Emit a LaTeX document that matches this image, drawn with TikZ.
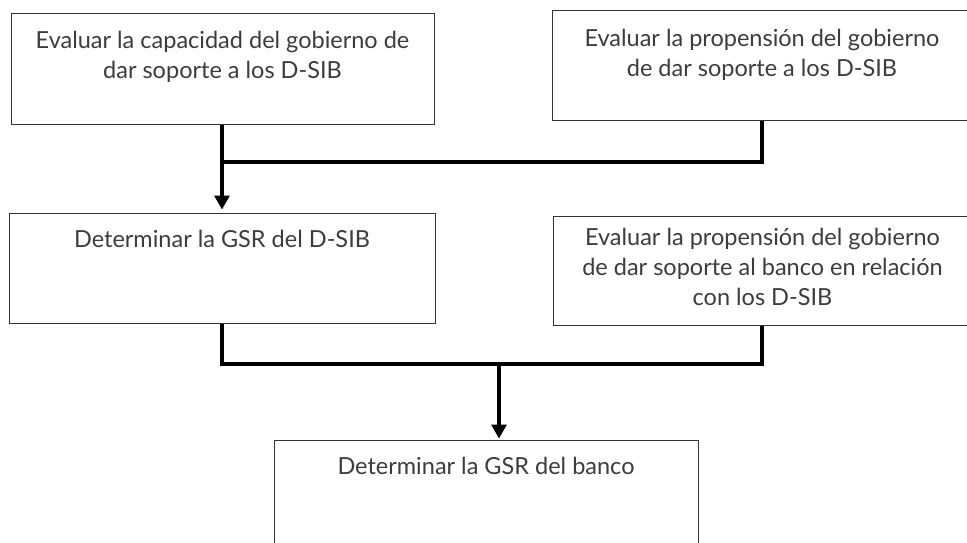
\documentclass[tikz,border=0pt]{standalone}
\usepackage{fontspec}
\setmainfont{Lato}
\usetikzlibrary{arrows.meta,positioning}
\definecolor{txtgray}{HTML}{3C3C3C}
\definecolor{boxgray}{HTML}{333333}
\begin{document}
\begin{tikzpicture}[x=1pt,y=-1pt,>={Triangle[width=15pt,length=14pt]},
        box/.style={draw=boxgray,line width=1pt,minimum width=#1,inner sep=0pt},
        txt/.style={text=txtgray,align=center,inner sep=0pt,font=\fontsize{23.5}{30}\selectfont},
        conn/.style={line width=3.2pt,black}]
        \useasboundingbox (0,0) rectangle (967,543);
        \clip (0,0) rectangle (967,543);
        \node[box=423pt,minimum height=110pt] (cap) at (222.5,69) {};
        \node[box=428pt,minimum height=109pt] (prop) at (766,65.5) {};
        \node[box=426pt,minimum height=110pt] (gsrd) at (222,268) {};
        \node[box=427pt,minimum height=109pt] (propb) at (766.5,270.5) {};
        \node[box=424pt,minimum height=120pt] (gsrb) at (486,500) {};
        \node[txt,below=17pt of cap.north] (tcap) {Evaluar la capacidad del gobierno de\\dar soporte a los D-SIB};
        \node[txt,below=18pt of prop.north,xshift=-4pt] (tprop) {Evaluar la propensión del gobierno\\de dar soporte a los D-SIB};
        \node[txt,below=17pt of gsrd.north] (tgsrd) {Determinar la GSR del D-SIB};
        \node[txt,below=12pt of propb.north,xshift=-4pt] (tpropb) {Evaluar la propensión del gobierno\\de dar soporte al banco en relación\\con los D-SIB};
        \node[txt,below=17pt of gsrb.north] (tgsrb) {Determinar la GSR del banco};
        \coordinate (colr) at (762,0);
        \coordinate (j1) at (222,162);
        \coordinate (j2) at (499,364);
        \draw[conn,->,shorten >=3pt] (cap.south -| j1) -- (gsrd.north -| j1);
        \draw[conn] (prop.south -| colr) |- (j1);
        \draw[conn] (gsrd.south -| j1) |- (j2 -| colr) -- (propb.south -| colr);
        \draw[conn,->,shorten >=1pt] (j2) -- (gsrb.north -| j2);
    \end{tikzpicture}
\end{document}
